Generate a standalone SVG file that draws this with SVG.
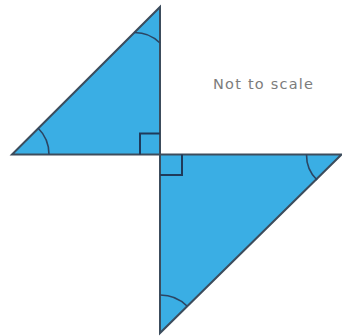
<svg xmlns="http://www.w3.org/2000/svg" width="342" height="336" viewBox="0 0 342 336">
<style>
.tri{fill:#3aaee4;stroke:#3c4c5c;stroke-width:2;stroke-linejoin:miter}
.arc{fill:none;stroke:#2b4563;stroke-width:1.6}
.ra{fill:none;stroke:#1f3a5a;stroke-width:2}
.lbl{font-family:"DejaVu Sans",sans-serif;font-size:14.5px;fill:#7c7c7c}
</style>
<rect width="342" height="336" fill="#ffffff"/>
<g id="triangle-top">
<polygon class="tri" points="12,154.5 160,7 160,154.5"/>
<path class="arc" d="M134.5,32.5 A36,36 0 0 1 160,43"/>
<path class="arc" d="M38,128 A37,37 0 0 1 49,154.5"/>
<path class="ra" d="M140,154.5 V133.5 H160"/>
</g>
<g id="triangle-bottom">
<polygon class="tri" points="160,154.5 341.5,154.5 160,333"/>
<path class="arc" d="M306.5,154.5 A35,35 0 0 0 317,180"/>
<path class="arc" d="M160,295 A38,38 0 0 1 187,306"/>
<path class="ra" d="M160,175 H182 V154.5"/>
</g>
<g id="connectors"></g>
<g id="label">
<text class="lbl" x="263" y="88.5" text-anchor="middle" textLength="100" lengthAdjust="spacing">Not to scale</text>
</g>
</svg>
